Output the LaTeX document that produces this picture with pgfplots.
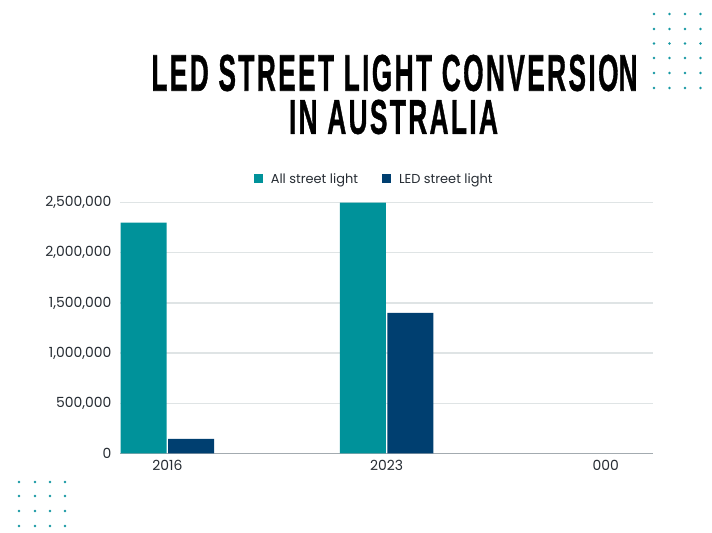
\documentclass[border=0pt]{standalone}
\usepackage{pgfplots}
\pgfplotsset{compat=1.18}
\usepackage{fontspec}
\setmainfont{Poppins}
\newfontfamily\titlefont{Liberation Sans}[BoldFeatures={FakeBold=1.2, LetterSpace=9}]
\definecolor{teal1}{HTML}{00929A}
\definecolor{navy1}{HTML}{003F70}
\definecolor{dotc}{HTML}{1598A3}
\definecolor{gridc}{HTML}{DFE4E5}
\definecolor{axc}{HTML}{A3ABB0}
\definecolor{txt}{HTML}{262C33}
\begin{document}
\begin{tikzpicture}[x=1bp,y=1bp]
\path[use as bounding box, fill=white] (0,0) rectangle (712,533);
% title
\node[anchor=center, inner sep=0] at (394.5, 533-73) {\resizebox{486bp}{36bp}{\titlefont\bfseries LED STREET LIGHT CONVERSIO\kern-0pt N}};
\node[anchor=center, inner sep=0] at (393.5, 533-117) {\resizebox{209bp}{34bp}{\titlefont\bfseries IN AUSTRALIA}};
% decorative dots
\foreach \i in {654,669.5,685,700.5} {\foreach \j in {14,29,43.5,58,73,88} {\fill[dotc] (\i,533-\j) circle (1.4);}}
\foreach \i in {19,35,50,65} {\foreach \j in {482,496,511,526} {\fill[dotc] (\i,533-\j) circle (1.4);}}
\begin{axis}[
  at={(120bp,79.7bp)}, anchor=south west,
  scale only axis, width=533bp, height=250.6bp,
  ybar=1.5bp, bar width=46bp,
  xmin=-0.216, xmax=2.216, ymin=0, ymax=2500000,
  xtick={0,1,2}, xticklabels={2016,2023,000},
  ytick={0,500000,1000000,1500000,2000000,2500000},
  yticklabels={0,{500,000},{1,000,000},{1,500,000},{2,000,000},{2,500,000}},
  scaled y ticks=false,
  major tick length=0,
  axis x line=bottom, axis y line=left,
  y axis line style={draw=none},
  x axis line style={axc, line width=1.5bp, -},
  ymajorgrids, grid style={gridc, line width=1.2bp},
  ticklabel style={font=\fontsize{14}{16}\selectfont, text=txt},
  yticklabel style={xshift=-5bp},
  xticklabel style={yshift=-3.5bp},
  /pgf/number format/assume math mode=true,
  legend style={at={(0.475,1.098)}, anchor=center, draw=none, fill=none,
    legend columns=2, font=\fontsize{13}{15}\selectfont, text=txt,
    /tikz/every even column/.append style={column sep=24bp},
    nodes={inner sep=0pt, text depth=0pt},
    legend cell align=left},
  legend image code/.code={\fill[#1] (0bp,-4.5bp) rectangle (9bp,4.5bp); \path (17bp,0);},
]
\addplot[fill=teal1, draw=none] coordinates {(0,2300000) (1,2500000)};
\addplot[fill=navy1, draw=none] coordinates {(0,145000) (1,1400000)};
\legend{All street light, LED street light}
\end{axis}
\end{tikzpicture}
\end{document}
